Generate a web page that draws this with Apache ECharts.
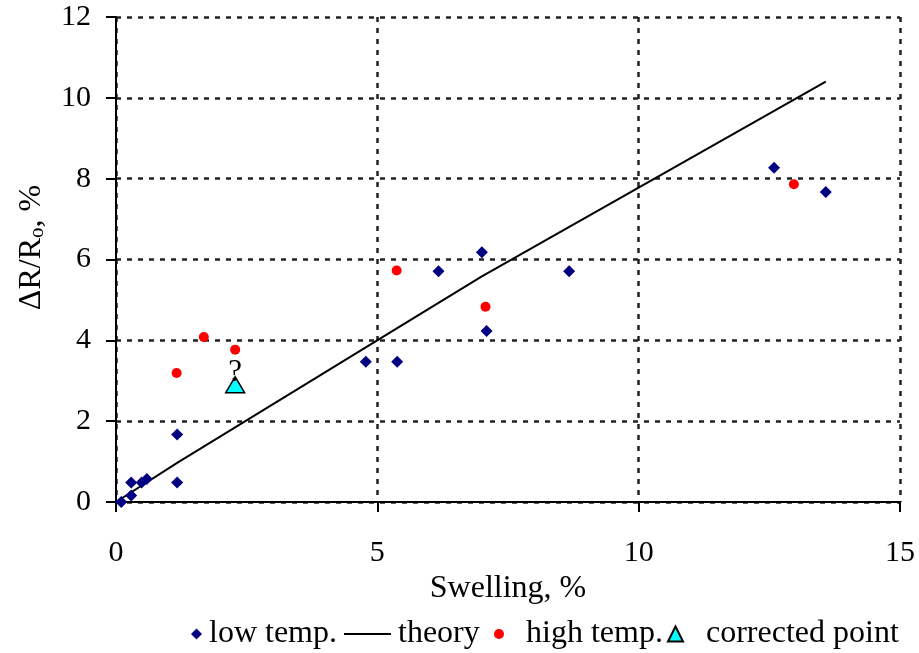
<!DOCTYPE html>
<html>
<head>
<meta charset="utf-8">
<title>Swelling vs dR/Ro</title>
<script src="https://cdn.jsdelivr.net/npm/echarts@6/dist/echarts.min.js"></script>
<style>
html, body { margin: 0; padding: 0; background: #fff; }
#main { width: 919px; height: 653px; }
</style>
</head>
<body>
<div id="main"></div>
<script type="text/javascript">
// low temp. points
var lowX = [0.1, 0.29, 0.29, 0.49, 0.59, 1.17, 1.17, 4.78, 5.38, 6.17, 7.0, 7.09, 8.67, 12.59, 13.58];
var lowY = [0.0, 0.16, 0.48, 0.48, 0.57, 1.67, 0.48, 3.47, 3.47, 5.71, 6.18, 4.23, 5.71, 8.27, 7.67];
// high temp. points
var highX = [1.16, 1.68, 2.28, 5.37, 7.07, 12.97];
var highY = [3.19, 4.08, 3.77, 5.73, 4.83, 7.86];
// theory line
var theoryX = [0, 1.17, 5.38, 7.0, 13.58];
var theoryY = [0, 0.97, 4.3, 5.58, 10.4];
// corrected point
var corrX = [2.28];
var corrY = [2.9];
var corrLabel = '?';

var xTicks = [0, 5, 10, 15];
var yTicks = [0, 2, 4, 6, 8, 10, 12];

function pairs(xs, ys) {
	return xs.map(function (x, i) { return [x, ys[i]]; });
}

var FONT = 'Liberation Serif';
var gridLine = { show: true, lineStyle: { color: '#222', width: 2.5, type: [5, 6] } };

var myChart = echarts.init(document.getElementById('main'));

var legendText = { fontFamily: FONT, fontSize: 32, color: '#000' };

var option = {
	animation: false,
	backgroundColor: '#fff',
	grid: { left: 116, right: 19, top: 17, bottom: 151 },
	// 图例分成四块，好控制每项的位置
	legend: [
		{ data: ['low temp.'], left: 191, top: 618, padding: 0, icon: 'diamond', itemWidth: 11, itemHeight: 11,
		  textStyle: Object.assign({ padding: [0, 0, 0, 2] }, legendText) },
		{ data: ['theory'], left: 344, top: 618, padding: 0, icon: 'rect', itemWidth: 47, itemHeight: 2,
		  textStyle: Object.assign({ padding: [0, 0, 0, 2] }, legendText) },
		{ data: ['high temp.'], left: 494, top: 618, padding: 0, icon: 'circle', itemWidth: 10, itemHeight: 10,
		  textStyle: Object.assign({ padding: [0, 0, 0, 17] }, legendText) },
		{ data: ['corrected point'], left: 667, top: 618, padding: 0, icon: 'triangle', itemWidth: 15, itemHeight: 15,
		  textStyle: Object.assign({ padding: [0, 0, 0, 18] }, legendText) }
	],
	xAxis: {
		type: 'value',
		min: xTicks[0],
		max: xTicks[xTicks.length - 1],
		interval: 5,
		name: 'Swelling, %',
		nameLocation: 'middle',
		nameGap: 66,
		nameTextStyle: { fontFamily: FONT, fontSize: 32, color: '#000' },
		axisLine: { onZero: false, lineStyle: { color: '#000', width: 2 } },
		axisTick: { show: true, length: 10, lineStyle: { color: '#000', width: 2 } },
		axisLabel: { margin: 36, fontFamily: FONT, fontSize: 30, color: '#000' },
		splitLine: gridLine
	},
	yAxis: {
		type: 'value',
		min: yTicks[0],
		max: yTicks[yTicks.length - 1],
		interval: 2,
		name: '{n|ΔR/R}{s|o}{n|, %}',
		nameLocation: 'middle',
		nameGap: 68,
		nameTextStyle: {
			padding: [0, 0, 0, 24],
			rich: {
				n: { fontFamily: FONT, fontSize: 32, color: '#000' },
				s: { fontFamily: FONT, fontSize: 21, color: '#000', verticalAlign: 'bottom', padding: [12, 0, 0, 0] }
			}
		},
		axisLine: { onZero: false, lineStyle: { color: '#000', width: 2 } },
		axisTick: { show: true, length: 10, lineStyle: { color: '#000', width: 2 } },
		axisLabel: { margin: 25, fontFamily: FONT, fontSize: 30, color: '#000' },
		splitLine: gridLine
	},
	series: [
		{
			name: 'low temp.',
			type: 'scatter',
			symbol: 'diamond',
			symbolSize: 12,
			itemStyle: { color: '#000080', opacity: 1 },
			data: pairs(lowX, lowY),
			z: 3
		},
		{
			name: 'theory',
			type: 'line',
			symbol: 'none',
			lineStyle: { color: '#000', width: 2 },
			itemStyle: { color: '#000' },
			data: pairs(theoryX, theoryY),
			z: 2
		},
		{
			name: 'high temp.',
			type: 'scatter',
			symbol: 'circle',
			symbolSize: 10,
			itemStyle: { color: '#ff0000', opacity: 1 },
			data: pairs(highX, highY),
			z: 3
		},
		{
			name: 'corrected point',
			type: 'scatter',
			symbol: 'triangle',
			symbolSize: [19, 16],
			itemStyle: { color: '#00ffff', borderColor: '#000', borderWidth: 1.5, opacity: 1 },
			label: {
				show: true,
				position: 'top',
				distance: -12,
				formatter: corrLabel,
				fontFamily: FONT,
				fontSize: 31,
				color: '#000'
			},
			data: pairs(corrX, corrY),
			z: 4
		}
	]
};

myChart.setOption(option);
</script>
</body>
</html>
